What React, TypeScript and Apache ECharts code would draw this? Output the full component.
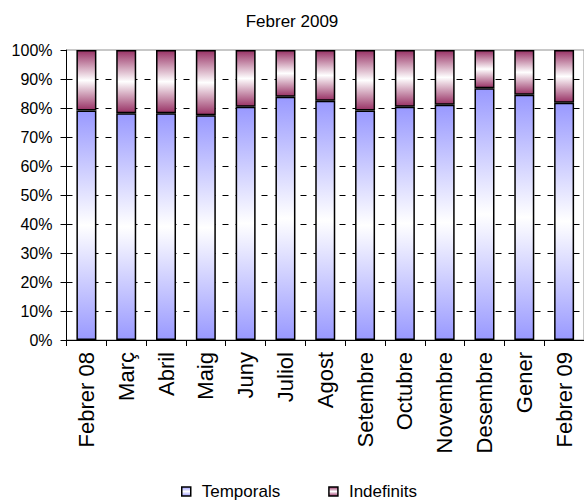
import React, { useEffect, useRef } from "react";
import * as echarts from "echarts";

const categories = [
  "Febrer 08", "Març", "Abril", "Maig", "Juny", "Juliol", "Agost",
  "Setembre", "Octubre", "Novembre", "Desembre", "Gener", "Febrer 09",
];
const temporals = [79.1, 78.2, 78.2, 77.5, 80.4, 83.9, 82.5, 79.1, 80.4, 81.1, 86.8, 84.6, 81.8];
const indefinits = [20.9, 21.8, 21.8, 22.5, 19.6, 16.1, 17.5, 20.9, 19.6, 18.9, 13.2, 15.4, 18.2];
const titleText = "Febrer 2009";
const seriesNames = ["Temporals", "Indefinits"];

const FONT = "'Liberation Sans', Arial, sans-serif";

function grad(base: string) {
  return new echarts.graphic.LinearGradient(0, 0, 0, 1, [
    { offset: 0, color: base },
    { offset: 0.5, color: "#ffffff" },
    { offset: 1, color: base },
  ]);
}

export default function App() {
  const ref = useRef<HTMLDivElement>(null);
  useEffect(() => {
    if (!ref.current) return;
    const chart = echarts.init(ref.current, undefined, { renderer: "svg" });
    const splitColors = Array.from({ length: 11 }, (_, i) =>
      i === 0 || i === 10 ? "rgba(0,0,0,0)" : "#000000"
    );
    chart.setOption({
      animation: false,
      backgroundColor: "#ffffff",
      title: {
        text: titleText,
        left: "center",
        top: 8,
        textStyle: { fontFamily: FONT, fontSize: 17, fontWeight: "normal", color: "#000" },
      },
      legend: {
        left: 181,
        top: 483,
        padding: 0,
        itemWidth: 9,
        itemHeight: 9,
        itemGap: 48,
        icon: "rect",
        itemStyle: { borderColor: "#000", borderWidth: 1.5 },
        textStyle: {
          fontFamily: FONT,
          fontSize: 17,
          lineHeight: 17,
          color: "#000",
          padding: [0, 0, 0, 6],
        },
        data: seriesNames,
      },
      grid: {
        left: 66.5,
        right: -5,
        top: 50,
        bottom: 163,
        show: true,
        borderColor: "#909090",
        borderWidth: 1,
        backgroundColor: "transparent",
      },
      xAxis: {
        type: "category",
        data: categories,
        boundaryGap: true,
        axisLine: { lineStyle: { color: "#000", width: 1 } },
        axisTick: { show: true, length: 6, inside: false, lineStyle: { color: "#000" } },
        axisLabel: {
          rotate: 90,
          margin: 12,
          interval: 0,
          fontFamily: FONT,
          fontSize: 22,
          color: "#000",
        },
      },
      yAxis: {
        type: "value",
        min: 0,
        max: 100,
        interval: 10,
        axisLine: { show: true, lineStyle: { color: "#000", width: 1 } },
        axisTick: { show: true, length: 6, lineStyle: { color: "#000" } },
        axisLabel: {
          formatter: "{value}%",
          margin: 14,
          fontFamily: FONT,
          fontSize: 16,
          color: "#000",
        },
        splitLine: {
          show: true,
          lineStyle: { color: splitColors, type: [6, 7], width: 1 },
        },
      },
      series: [
        {
          name: seriesNames[0],
          type: "bar",
          stack: "total",
          data: temporals,
          barWidth: 20,
          itemStyle: { color: grad("#9999ff"), borderColor: "#000", borderWidth: 1.5 },
        },
        {
          name: seriesNames[1],
          type: "bar",
          stack: "total",
          data: indefinits,
          barWidth: 20,
          itemStyle: { color: grad("#993366"), borderColor: "#000", borderWidth: 1.5 },
        },
      ],
    });
    return () => chart.dispose();
  }, []);
  return (
    <div
      ref={ref}
      style={{ position: "absolute", left: 0, top: 0, width: 584, height: 503 }}
    />
  );
}
